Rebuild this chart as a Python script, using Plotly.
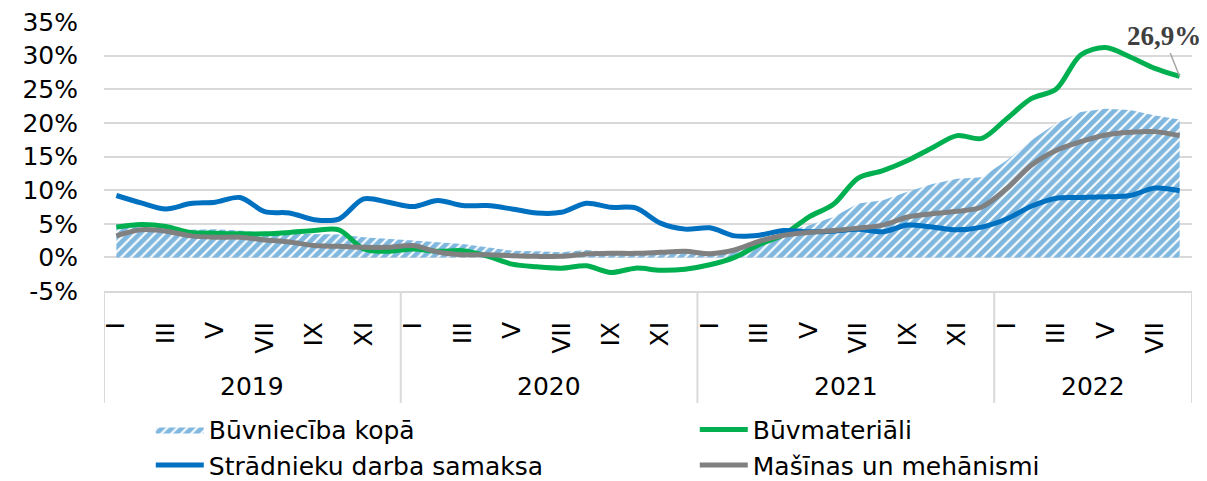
import plotly.graph_objects as go

# ---- data -----------------------------------------------------------------
years = ["2019", "2020", "2021", "2022"]
months_per_year = [12, 12, 12, 8]
month_labels = ["I", "", "III", "", "V", "", "VII", "", "IX", "", "XI", ""]

buvnieciba_kopa = [
    5.0, 4.4, 4.2, 4.1, 4.2, 4.0, 3.6, 3.5, 3.5, 3.4, 3.0, 2.7,
    2.5, 2.25, 2.0, 1.5, 1.0, 0.9, 0.75, 1.1, 0.75, 0.75, 0.9, 0.9,
    0.7, 1.2, 2.5, 3.75, 4.75, 6.0, 8.0, 8.5, 9.75, 10.9, 11.7, 11.9,
    14.4, 17.4, 19.9, 21.6, 22.1, 21.9, 21.1, 20.5,
]
buvmateriali = [
    4.5, 4.9, 4.6, 3.7, 3.6, 3.5, 3.5, 3.7, 4.0, 4.1, 1.25, 0.9,
    1.25, 0.9, 1.0, 0.2, -1.0, -1.4, -1.6, -1.25, -2.25, -1.6, -1.9, -1.75,
    -1.1, 0.0, 1.9, 3.4, 6.0, 7.9, 11.8, 12.9, 14.4, 16.3, 18.1, 17.7,
    20.6, 23.6, 25.0, 30.1, 31.2, 29.8, 28.1, 26.9,
]
stradnieku_samaksa = [
    9.2, 8.1, 7.2, 8.0, 8.2, 8.9, 6.8, 6.6, 5.6, 5.7, 8.7, 8.2,
    7.55, 8.45, 7.7, 7.7, 7.2, 6.6, 6.7, 8.05, 7.45, 7.35, 5.1, 4.2,
    4.4, 3.2, 3.3, 4.0, 3.8, 3.9, 4.2, 3.8, 4.8, 4.5, 4.1, 4.5,
    5.7, 7.6, 8.8, 8.9, 9.0, 9.2, 10.3, 9.9,
]
masinas = [
    3.2, 4.1, 3.9, 3.2, 3.0, 3.0, 2.6, 2.3, 1.75, 1.65, 1.5, 1.5,
    1.75, 0.8, 0.4, 0.4, 0.25, 0.15, 0.15, 0.5, 0.6, 0.6, 0.75, 0.9,
    0.55, 1.1, 2.4, 3.3, 3.7, 4.0, 4.35, 4.8, 6.0, 6.5, 6.85, 7.5,
    10.2, 13.7, 15.9, 17.2, 18.2, 18.6, 18.7, 18.1,
]
y_tick_vals = [-5, 0, 5, 10, 15, 20, 25, 30, 35]
y_tick_text = ["-5%", "0%", "5%", "10%", "15%", "20%", "25%", "30%", "35%"]
last_label = "26,9%"

# ---- derived category positions ------------------------------------------
x = list(range(len(buvmateriali)))
tick_vals, tick_text = [], []
pos = 0
year_centers, boundaries = [], [-0.5]
for yr, n in zip(years, months_per_year):
    for m in range(n):
        if month_labels[m]:
            tick_vals.append(pos + m)
            tick_text.append(month_labels[m])
    year_centers.append(pos + (n - 1) / 2)
    pos += n
    boundaries.append(pos - 0.5)

FONT = "Verdana, DejaVu Sans, sans-serif"
FS = 25
BLUE = "#0070C0"
GREEN = "#00B050"
GREY = "#808080"
GRID = "#D9D9D9"

fig = go.Figure()
fig.add_trace(go.Scatter(
    x=x, y=buvnieciba_kopa, name="Būvniecība kopā", mode="lines",
    line=dict(width=0, color=BLUE), fill="tozeroy", fillcolor="rgba(0,0,0,0)",
    fillpattern=dict(shape="/", fgcolor=BLUE, bgcolor="white", size=7, solidity=0.7),
    legend="legend", hoverinfo="skip",
))
fig.add_trace(go.Scatter(
    x=x, y=buvmateriali, name="Būvmateriāli", mode="lines",
    line=dict(color=GREEN, width=5, shape="spline", smoothing=0.9),
    legend="legend2",
))
fig.add_trace(go.Scatter(
    x=x, y=stradnieku_samaksa, name="Strādnieku darba samaksa", mode="lines",
    line=dict(color=BLUE, width=5, shape="spline", smoothing=0.9),
    legend="legend",
))
fig.add_trace(go.Scatter(
    x=x, y=masinas, name="Mašīnas un mehānismi", mode="lines",
    line=dict(color=GREY, width=5, shape="spline", smoothing=0.9),
    legend="legend2",
))

# year labels and separators of the category axis
for xc, yr in zip(year_centers, years):
    fig.add_annotation(x=xc, y=-0.355, xref="x", yref="paper", text=yr,
                       showarrow=False, font=dict(family=FONT, size=FS, color="black"),
                       xanchor="center", yanchor="middle")
for b in boundaries:
    fig.add_shape(type="line", xref="x", yref="paper", x0=b, x1=b, y0=0, y1=-0.416,
                  line=dict(color=GRID, width=2))

# data label on the last green point
fig.add_annotation(x=x[-1], y=buvmateriali[-1], xref="x", yref="y", text=f"<b>{last_label}</b>",
                   showarrow=True, arrowhead=0, arrowwidth=1.5, arrowcolor="#A6A6A6",
                   ax=-16, ay=-40, standoff=0,
                   font=dict(family="Liberation Serif, Times New Roman, serif", size=27, color="#404040"))

fig.update_layout(
    width=1207, height=481,
    margin=dict(l=104, r=15, t=22, b=190, autoexpand=False),
    paper_bgcolor="white", plot_bgcolor="white",
    font=dict(family=FONT, size=FS, color="black"),
    showlegend=True,
    legend=dict(x=0.043, y=-0.43, xanchor="left", yanchor="top", orientation="v",
                font=dict(family=FONT, size=FS, color="black"), itemwidth=48,
                bgcolor="rgba(0,0,0,0)", tracegroupgap=0),
    legend2=dict(x=0.543, y=-0.43, xanchor="left", yanchor="top", orientation="v",
                 font=dict(family=FONT, size=FS, color="black"), itemwidth=48,
                 bgcolor="rgba(0,0,0,0)", tracegroupgap=0),
)
fig.update_xaxes(range=[-0.5, len(x) - 0.5], tickmode="array", tickvals=tick_vals,
                 ticktext=tick_text, tickangle=-90, showgrid=False, zeroline=False,
                 showline=True, linecolor=GRID, linewidth=2, ticks="", automargin=False,
                 ticklabelstandoff=19, tickfont=dict(family=FONT, size=FS, color="black"))
fig.update_yaxes(range=[-5, 35], tickmode="array", tickvals=y_tick_vals, ticktext=y_tick_text,
                 showgrid=True, gridcolor=GRID, gridwidth=2, zeroline=False, showline=False,
                 ticks="", automargin=False,
                 ticklabelstandoff=25, tickfont=dict(family=FONT, size=FS, color="black"))

fig.write_html("out.html", config={"displayModeBar": False},
               post_script="document.body.style.margin='0';document.body.style.overflow='hidden';")
